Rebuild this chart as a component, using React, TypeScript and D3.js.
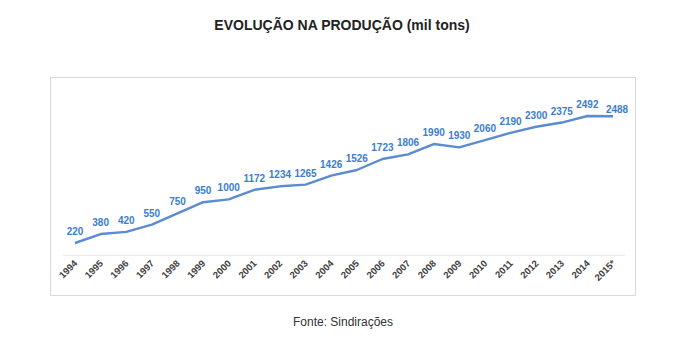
import React from "react";
import * as d3 from "d3";

const years = ["1994","1995","1996","1997","1998","1999","2000","2001","2002","2003","2004","2005","2006","2007","2008","2009","2010","2011","2012","2013","2014","2015*"];
const production = [220,380,420,550,750,950,1000,1172,1234,1265,1426,1526,1723,1806,1990,1930,2060,2190,2300,2375,2492,2488];
const title = "EVOLUÇÃO NA PRODUÇÃO (mil tons)";
const source = "Fonte: Sindirações";

export default function App() {
  const W = 691, H = 355;
  const x = d3.scalePoint<string>().domain(years).range([75, 613]);
  const y = d3.scaleLinear().domain([0, 3000]).range([255.3, 87.6]);
  const line = d3.line<number>().x((_, i) => x(years[i])!).y(d => y(d));
  const last = production.length - 1;
  return (
    <svg width={W} height={H} style={{ position: "absolute", left: 0, top: 0 }} fontFamily="'Liberation Sans', Arial, sans-serif">
      <rect x={0} y={0} width={W} height={H} fill="#fff" />
      <text x={342} y={30} textAnchor="middle" fontSize={14} fontWeight="bold" fill="#222">{title}</text>
      <rect x={50.5} y={77.5} width={585} height={218} fill="#fff" stroke="#d9d9d9" strokeWidth={1} />
      <line x1={63} x2={625} y1={y(0)} y2={y(0)} stroke="#e6e6e6" strokeWidth={1} />
      <path d={line(production)!} fill="none" stroke="#5b8bd0" strokeWidth={2.4} strokeLinejoin="round" />
      {production.map((v, i) => (
        <text key={i} x={x(years[i])! + (i === last ? 4 : 0)} y={y(v) - (i === last ? 3 : 8)} textAnchor="middle" fontSize={10} fontWeight="bold" fill="#3c7dd0">{v}</text>
      ))}
      {years.map((yr, i) => (
        <text key={yr} transform={`translate(${x(yr)! + 3},${264}) rotate(-45)`} textAnchor="end" fontSize={9.5} fontWeight="bold" fill="#404040">{yr}</text>
      ))}
      <text x={343} y={326} textAnchor="middle" fontSize={12} fill="#333">{source}</text>
    </svg>
  );
}
